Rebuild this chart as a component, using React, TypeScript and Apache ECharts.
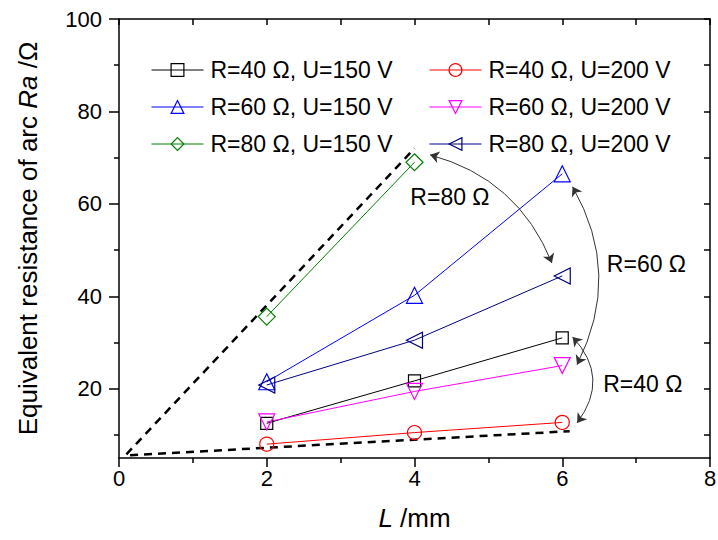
import React, { useEffect, useRef } from "react";
import * as echarts from "echarts";

// ---- data ----
const L = [2, 4, 6];
const L80 = [2, 4];
const r40u150 = [12.5, 21.7, 31.0];
const r40u200 = [8.0, 10.5, 12.7];
const r60u150 = [21.5, 40.2, 66.5];
const r60u200 = [12.8, 19.4, 25.0];
const r80u150 = [35.6, 69.0];
const r80u200 = [20.8, 30.5, 44.4];

const upperGuide = [[0.1, 5.8], [4.0, 72.0]];
const lowerGuide = [[0.15, 5.6], [6.1, 10.8]];

const arrowR80 = [[4.21, 70.6], [5.86, 47.2]];
const arrowR60 = [[6.14, 63.7], [6.2, 25.2]];
const arrowR40 = [[6.14, 31.2], [6.2, 12.6]];

const annotations = [
  { name: "R=80 Ω", value: [4.48, 61.3] },
  { name: "R=60 Ω", value: [7.14, 46.8] },
  { name: "R=40 Ω", value: [7.09, 20.9] },
];

const yMajorTicks = [20, 40, 60, 80, 100];
const yMinorTicks = [10, 30, 50, 70, 90];
const yAllTicks = [10, 20, 30, 40, 50, 60, 70, 80, 90, 100];

const FONT = 'Arial, "Liberation Sans", sans-serif';

function mk(name: string, xs: number[], ys: number[], color: string, symbol: string, size: number, rotate = 0) {
  return {
    name,
    type: "line",
    data: xs.map((x, i) => [x, ys[i]]),
    symbol,
    symbolSize: size,
    symbolRotate: rotate,
    showSymbol: true,
    color,
    lineStyle: { color, width: 1 },
    itemStyle: { color: "rgba(0,0,0,0)", borderColor: color, borderWidth: 1.2 },
    z: 3,
  };
}

export default function App() {
  const ref = useRef<HTMLDivElement>(null);
  useEffect(() => {
    const chart = echarts.init(ref.current!, null, { renderer: "svg" });
    const axisLine = { show: true, lineStyle: { color: "#000", width: 1.5 } };
    const arrowSeries = (data: number[][], curveness: number) => ({
      type: "lines",
      coordinateSystem: "cartesian2d",
      polyline: false,
      symbol: ["arrow", "arrow"],
      symbolSize: 9,
      lineStyle: { color: "#333", width: 1, curveness, opacity: 1 },
      data: [{ coords: data }],
      silent: true,
      z: 4,
    });
    const legendCommon = {
      orient: "vertical",
      top: 53,
      itemWidth: 52,
      itemHeight: 16,
      itemGap: 13,
      lineStyle: { width: 1 },
      itemStyle: { borderWidth: 1.2 },
      textStyle: { fontSize: 23, color: "#000", fontFamily: FONT, lineHeight: 24, padding: [0, 0, 0, 2] },
    };
    chart.setOption({
      animation: false,
      textStyle: { fontFamily: FONT },
      grid: { left: 119, right: 8, top: 19, bottom: 82, containLabel: false, outerBoundsMode: "none" },
      legend: [
        {
          ...legendCommon,
          data: ["R=40 Ω, U=150 V", "R=60 Ω, U=150 V", "R=80 Ω, U=150 V"],
          left: 146,
        },
        {
          ...legendCommon,
          data: ["R=40 Ω, U=200 V", "R=60 Ω, U=200 V", "R=80 Ω, U=200 V"],
          left: 424,
        },
      ],
      xAxis: [
        {
          type: "value",
          position: "bottom",
          min: 0,
          max: 8,
          interval: 2,
          axisLine,
          axisTick: { show: true, length: 9, lineStyle: { color: "#000", width: 1.5 } },
          minorTick: { show: true, splitNumber: 2, length: 5, lineStyle: { color: "#000", width: 1.5 } },
          splitLine: { show: false },
          axisLabel: { fontSize: 22, color: "#000", margin: 9, fontFamily: FONT },
          name: "{i|L} /mm",
          nameLocation: "middle",
          nameGap: 47,
          nameTextStyle: {
            fontSize: 26,
            color: "#000",
            fontFamily: FONT,
            rich: { i: { fontStyle: "italic", fontSize: 26, fontFamily: FONT, color: "#000" } },
          },
        },
        {
          type: "value",
          position: "top",
          min: 0,
          max: 8,
          interval: 1,
          axisLine,
          axisTick: { show: true, inside: true, length: 6, lineStyle: { color: "#000", width: 1.5 } },
          splitLine: { show: false },
          axisLabel: { show: false },
        },
      ],
      yAxis: [
        {
          type: "value",
          position: "left",
          min: 5,
          max: 100,
          axisLine,
          axisTick: { show: true, length: 10, customValues: yMajorTicks, lineStyle: { color: "#000", width: 1.5 } },
          axisLabel: { fontSize: 22, color: "#000", margin: 17, customValues: yMajorTicks, fontFamily: FONT },
          splitLine: { show: false },
          name: "Equivalent resistance of arc {i|Ra} /Ω",
          nameLocation: "middle",
          nameGap: 78,
          nameTextStyle: {
            fontSize: 26,
            color: "#000",
            fontFamily: FONT,
            rich: { i: { fontStyle: "italic", fontSize: 26, fontFamily: FONT, color: "#000" } },
          },
        },
        {
          type: "value",
          position: "left",
          min: 5,
          max: 100,
          axisLine: { show: false },
          axisTick: { show: true, length: 5, customValues: yMinorTicks, lineStyle: { color: "#000", width: 1.5 } },
          axisLabel: { show: false },
          splitLine: { show: false },
        },
        {
          type: "value",
          position: "right",
          min: 5,
          max: 100,
          axisLine,
          axisTick: { show: true, inside: true, length: 6, customValues: yAllTicks, lineStyle: { color: "#000", width: 1.5 } },
          axisLabel: { show: false },
          splitLine: { show: false },
        },
      ],
      series: [
        {
          type: "line",
          data: upperGuide,
          symbol: "none",
          lineStyle: { color: "#000", width: 2.5, type: [8, 6] },
          silent: true,
          z: 2,
        },
        {
          type: "line",
          data: lowerGuide,
          symbol: "none",
          lineStyle: { color: "#000", width: 2.5, type: [8, 6] },
          silent: true,
          z: 2,
        },
        mk("R=40 Ω, U=150 V", L, r40u150, "#000000", "rect", 12),
        mk("R=40 Ω, U=200 V", L, r40u200, "#ff0000", "circle", 14),
        mk("R=60 Ω, U=150 V", L, r60u150, "#0000ff", "triangle", 16),
        mk("R=60 Ω, U=200 V", L, r60u200, "#ff00ff", "triangle", 16, 180),
        mk("R=80 Ω, U=150 V", L80, r80u150, "#008000", "diamond", 17),
        mk("R=80 Ω, U=200 V", L, r80u200, "#000080", "triangle", 16, 90),
        arrowSeries(arrowR80, 0.25),
        arrowSeries(arrowR60, 0.27),
        arrowSeries(arrowR40, 0.42),
        {
          type: "scatter",
          data: annotations,
          symbolSize: 1,
          itemStyle: { color: "rgba(0,0,0,0)", opacity: 1 },
          label: {
            show: true,
            position: "top",
            distance: 0,
            align: "center",
            verticalAlign: "middle",
            formatter: "{b}",
            fontSize: 23,
            color: "#000",
            opacity: 1,
            textBorderWidth: 0,
            fontFamily: FONT,
          },
          silent: true,
          z: 5,
        },
      ],
    });
    return () => chart.dispose();
  }, []);
  return <div ref={ref} style={{ width: 718, height: 540, position: "absolute", left: 0, top: 0 }} />;
}
